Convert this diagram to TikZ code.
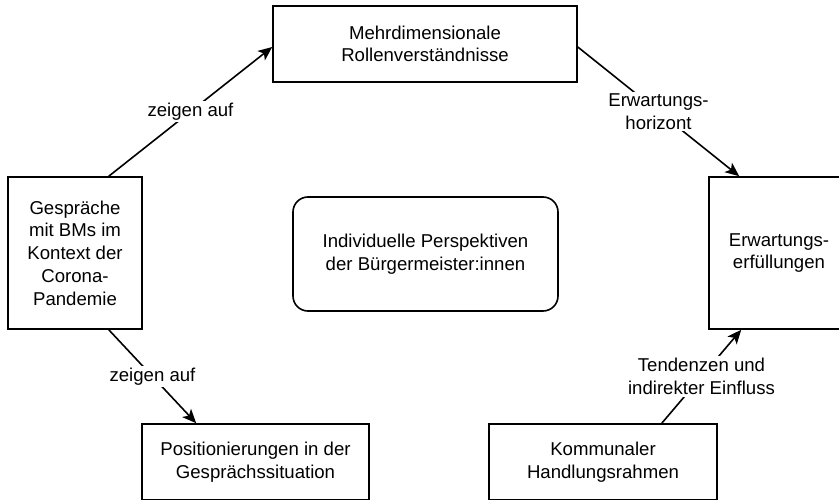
\documentclass[tikz,border=0pt]{standalone}
\usepackage{fontspec}
\setmainfont{Liberation Sans}
\usetikzlibrary{arrows.meta}
\tikzset{
  box/.style={draw, line width=1.6pt, align=center, inner sep=0pt},
  roundbox/.style={box, rounded corners=15pt},
  lbl/.style={fill=white, align=center, inner sep=2pt},
  pfeil/.style={line width=1.6pt, -{Stealth[length=14pt,width=12pt,inset=3.5pt]}}
}
\begin{document}
\begin{tikzpicture}[x=1pt,y=-1pt,font=\fontsize{18.6}{22.7}\selectfont]
  \useasboundingbox (0,0) rectangle (839,500);
  \clip (0,0) rectangle (839,500);
  % Kaesten
  \node[box, minimum width=304pt, minimum height=76pt] (rollen) at (425,44) {Mehrdimensionale\\Rollenverständnisse};
  \node[box, minimum width=134pt, minimum height=152pt] (gespraeche) at (75,253) {Gespräche\\mit BMs im\\Kontext der\\Corona-\\Pandemie};
  \node[roundbox, minimum width=265pt, minimum height=114pt] (perspektiven) at (425.5,254) {Individuelle Perspektiven\\der Bürgermeister:innen};
  \node[box, minimum width=140pt, minimum height=152pt] (erfuellung) at (779,253) {Erwartungs-\\erfüllungen};
  \node[box, minimum width=227pt, minimum height=76pt] (positionierung) at (255.5,462) {Positionierungen in der\\Gesprächssituation};
  \node[box, minimum width=228pt, minimum height=76pt] (kommunal) at (603,462) {Kommunaler\\Handlungsrahmen};
  % Pfeile
  \draw[pfeil] ([xshift=-34pt]gespraeche.north east) -- ([yshift=-3pt]rollen.west) node[lbl, midway] {zeigen auf};
  \draw[pfeil] ([yshift=-3pt]rollen.east) -- ([xshift=31pt]erfuellung.north west) node[lbl, midway] {Erwartungs-\\horizont};
  \draw[pfeil] ([xshift=-34pt]gespraeche.south east) -- ([xshift=55pt]positionierung.north west) node[lbl, midway] {zeigen auf};
  \draw[pfeil] ([xshift=-56pt]kommunal.north east) -- ([xshift=33pt]erfuellung.south west) node[lbl, midway] {Tendenzen und\\indirekter Einfluss};
\end{tikzpicture}
\end{document}
